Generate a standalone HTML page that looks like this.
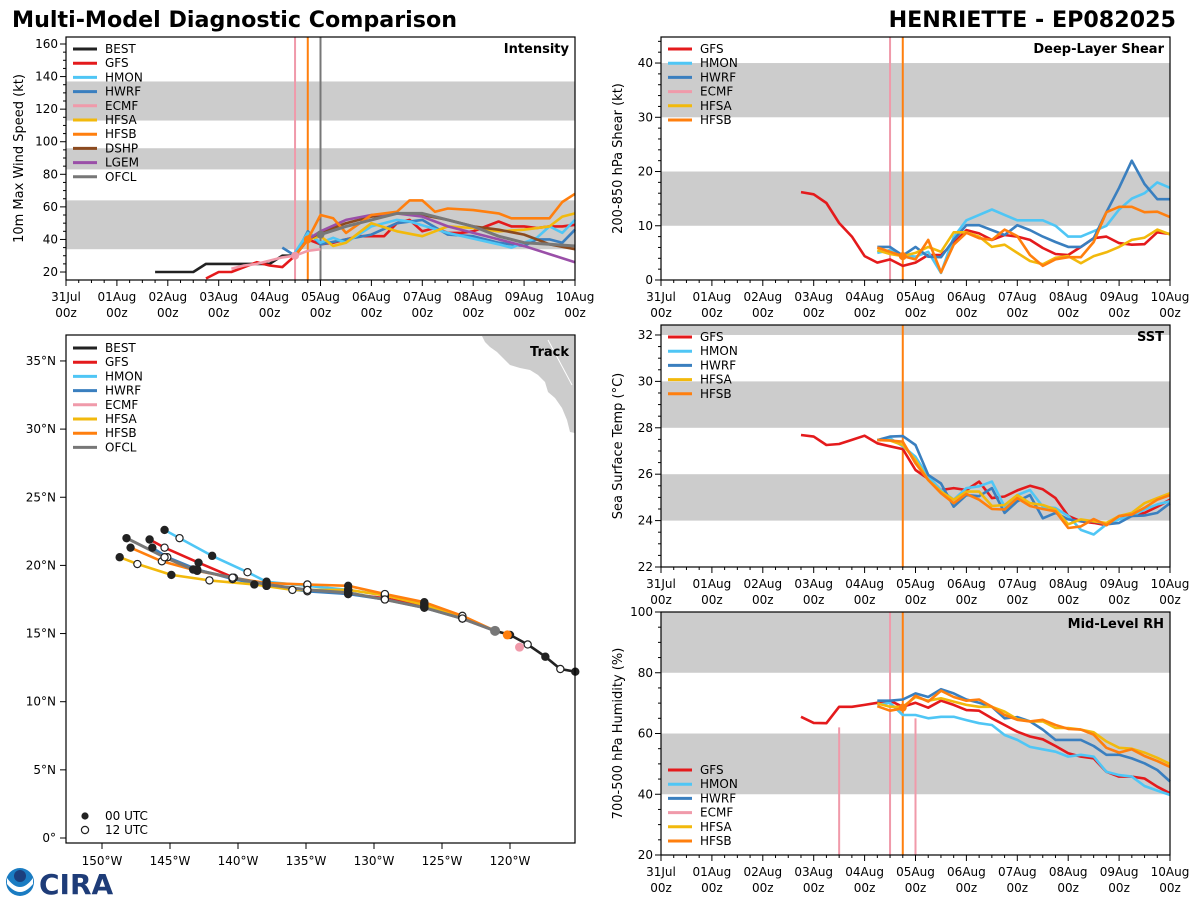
<!DOCTYPE html>
<html><head><meta charset="utf-8"><style>
body{margin:0;background:#fff;width:1200px;height:900px;overflow:hidden;font-family:"Liberation Sans","DejaVu Sans",sans-serif}
svg text{font-family:"DejaVu Sans","Liberation Sans",sans-serif}
</style></head><body>
<svg id="c" width="1200" height="900" xmlns="http://www.w3.org/2000/svg">
<text x="12" y="27" font-size="22.2" font-weight="bold">Multi-Model Diagnostic Comparison</text>
<text x="1176" y="27" font-size="22.2" font-weight="bold" text-anchor="end">HENRIETTE - EP082025</text>
<g>
<circle cx="20" cy="882" r="14" fill="#1a7cc2"/><path d="M7,878 Q20,896 33,878 L33,884 Q20,900 7,884Z" fill="#fff"/><circle cx="20" cy="876" r="6" fill="#1b3f7d"/>
<text x="39" y="894" font-size="28" font-weight="bold" fill="#1e3c78" font-family="Liberation Serif,serif">CIRA</text>
</g>
</svg>
<script>
// ---- data ----
const intensityBestH=[42,48,54,60,66,72,78,84,90,96,102,108,114];
const intensityBestV=[20,20,20,20,25,25,25,25,25,25,30,30,40];
const intensityGfsH=[66,72,78,84,90,96,102,108,114,120,126,132,138,144,150,156,162,168,174,180,186,192,198,204,210,216,222,228,234,240];
const intensityGfsV=[16,20,20,23,26,24,23,30,40,37,38,40,42,42,42,50,52,45,47,44,44,45,48,51,48,48,47,48,48,49];
const intensityHmonH=[108,114,120,126,132,144,156,162,180,204,210,216,222,228,234,240];
const intensityHmonV=[32,44,38,41,38,48,52,51,44,37,35,38,41,48,44,52];
const intensityHwrfH=[102,108,114,120,132,144,156,168,180,192,204,216,222,228,234,240];
const intensityHwrfV=[35,30,45,37,40,43,50,52,43,42,38,36,40,40,38,46];
const intensityHfsaH=[108,114,120,126,132,144,156,168,180,192,204,216,228,234,240];
const intensityHfsaV=[30,40,42,36,38,50,45,42,48,47,45,46,48,54,56];
const intensityHfsbH=[108,114,120,126,132,144,156,162,168,174,180,192,204,210,222,228,234,240];
const intensityHfsbV=[30,40,55,53,44,55,57,64,64,57,59,58,56,53,53,53,63,68];
const intensityEcmfH=[78,84,90,96,102,108,114,120];
const intensityEcmfV=[22,24,25,27,29,30,33,34];
const intensityDshpH=[108,114,120,132,144,156,168,180,192,204,216,222,228,240];
const intensityDshpV=[30,40,44,50,54,56,55,52,48,46,43,40,37,34];
const intensityLgemH=[114,120,132,144,156,168,180,192,204,216,228,240];
const intensityLgemV=[40,45,52,55,56,54,48,44,40,36,31,26];
const intensityOfclH=[120,132,144,156,168,180,192,204,216,228,240];
const intensityOfclV=[43,48,52,56,56,52,48,42,38,37,36];

const shearGfs=[16.2,15.8,14.2,10.5,8,4.4,3.2,3.8,2.6,3.2,4.6,4.6,6.8,9.2,8.6,7.4,8.3,8,7.4,5.9,4.8,4.6,6.1,7.7,8,6.8,6.5,6.6,8.8,8.5];
const shearHmon=[5,5.5,4.6,4.3,5.2,1.3,7.9,11,12,13,12,11,11,11,10,8,8,9,10,13,15,16,18,17];
const shearHwrf=[6.1,6.1,4.5,6.1,4.3,4.2,7.4,10.1,10.1,9.2,8.3,10.1,9.2,8,7,6.1,6.1,7.7,12.5,17,22,17.7,14.9,14.9];
const shearHfsa=[5.5,4.8,4.4,5,6.1,5.2,8.8,8.8,8,6.1,6.5,5,3.5,2.9,4.1,4.4,3.1,4.4,5.1,6.1,7.4,7.8,9.3,8.4];
const shearHfsb=[6,5.2,4.4,3.8,7.4,1.4,6.5,8.7,7.7,7.4,9.3,8.1,4.6,2.6,3.8,4.2,4.2,7,12.5,13.5,13.5,12.5,12.6,11.6];

const sstGfs=[27.69,27.62,27.26,27.3,27.48,27.66,27.33,27.2,27.08,26.18,25.8,25.32,25.4,25.32,25.68,24.97,25.04,25.3,25.5,25.35,24.97,24.2,23.97,23.9,23.8,24.2,24.2,24.33,24.6,24.9];
const sstHmon=[27.47,27.55,27.2,26.75,25.9,25.32,24.9,25.4,25.48,25.68,24.6,25.1,25.32,24.6,24.54,24.2,23.6,23.4,23.84,24.05,24.2,24.48,24.7,24.83];
const sstHwrf=[27.47,27.62,27.64,27.26,25.97,25.6,24.6,25.1,25.05,25.4,24.33,24.83,25.1,24.1,24.33,24.05,23.97,23.97,23.84,23.9,24.2,24.22,24.33,24.75];
const sstHfsa=[27.47,27.45,27.26,26.61,25.75,25.25,24.9,25.25,25.25,24.63,24.67,25.1,24.75,24.67,24.48,23.84,24.05,23.97,23.9,24.2,24.33,24.75,24.97,25.18];
const sstHfsb=[27.47,27.45,27.4,26.47,25.75,25.18,24.75,25.15,24.9,24.5,24.48,24.97,24.63,24.5,24.4,23.68,23.75,24.07,23.8,24.2,24.26,24.55,24.9,25.1];

const rhGfs=[65.5,63.5,63.4,68.8,68.8,69.4,70.1,70.8,68.8,70.1,68.5,70.8,69.4,67.7,67.5,65,62.8,60.6,59,58.1,55.9,53.5,52.4,51.8,47.4,45.8,45.8,45.2,42.5,40.3];
const rhHmon=[69.4,70.1,66.1,66.1,65,65.5,65.5,64.4,63.4,62.8,59.5,57.9,55.6,54.8,54,52.4,53,52.4,47.4,46.3,45.8,42.7,41.2,39.8];
const rhHwrf=[70.8,70.8,71.2,73.2,72,74.6,73.2,71.2,70.1,68.8,65,65.4,64,61.3,57.9,57.9,57.9,55.9,53,53,51.8,50.2,48,44.2];
const rhHfsa=[69.9,68.8,68.8,72,70.8,71.6,70.5,69.4,68.8,68.8,67.2,64.7,64,64,61.8,61.8,61.3,60.4,57.4,55.3,55,53.7,52,50];
const rhHfsb=[69,67.5,68.3,72.4,70.5,74.1,72,70.8,71.2,68.8,66.1,64.5,64,64.5,62.8,61.5,61.3,59.6,55.3,53.7,54.8,52.6,50.9,49];

const trackBestLon=[115.2,116.3,117.4,118.7,120.0,121.1];
const trackBestLat=[12.2,12.4,13.3,14.2,14.9,15.2];
const trackGfsLon=[121.1,123.5,126.3,129.2,131.9,134.9,137.9,140.3,142.9,145.4,146.5];
const trackGfsLat=[15.2,16.1,17.0,17.6,17.9,18.2,18.5,19.1,20.2,21.3,21.9];
const trackHmonLon=[121.1,123.5,126.3,129.2,131.9,134.9,137.9,139.3,141.9,144.3,145.4];
const trackHmonLat=[15.2,16.2,17.2,17.8,18.2,18.5,18.8,19.5,20.7,22.0,22.6];
const trackHwrfLon=[121.1,123.5,126.3,129.2,131.9,134.9,137.9,140.4,143.0,145.2,146.3];
const trackHwrfLat=[15.2,16.1,16.9,17.5,17.9,18.1,18.5,19.0,19.7,20.6,21.3];
const trackHfsaLon=[121.1,123.5,126.3,129.2,131.9,136.0,138.8,142.1,144.9,147.4,148.7];
const trackHfsaLat=[15.2,16.2,17.1,17.8,18.2,18.2,18.6,18.9,19.3,20.1,20.6];
const trackHfsbLon=[121.1,123.5,126.3,129.2,131.9,134.9,137.9,140.4,143.0,145.6,147.9];
const trackHfsbLat=[15.2,16.3,17.3,17.9,18.5,18.6,18.7,19.1,19.6,20.3,21.3];
const trackOfclLon=[121.1,123.5,126.3,129.2,131.9,134.9,137.9,140.4,143.3,145.4,148.2];
const trackOfclLat=[15.2,16.1,16.9,17.5,18.0,18.2,18.6,19.1,19.7,20.6,22.0];
const trackEcmfLon=[119.3];
const trackEcmfLat=[14.0];

const dateLabels=["31Jul","01Aug","02Aug","03Aug","04Aug","05Aug","06Aug","07Aug","08Aug","09Aug","10Aug"];
const lonTicks=[150,145,140,135,130,125,120];
const latTicks=[0,5,10,15,20,25,30,35];

// ---- drawing ----
const C={BEST:"#222222",GFS:"#e41a1c",HMON:"#4fc6f5",HWRF:"#3a7fbf",ECMF:"#f09aaa",HFSA:"#f2b90c",HFSB:"#ff7f0e",DSHP:"#8b4a1f",LGEM:"#9a4fa8",OFCL:"#777777"};
const svg=document.getElementById('c');const NS="http://www.w3.org/2000/svg";
function el(t,a,p){const e=document.createElementNS(NS,t);for(const k in a)e.setAttribute(k,a[k]);(p||svg).appendChild(e);return e;}
function txt(x,y,s,a,p){const e=el('text',Object.assign({x:x,y:y,'font-size':12},a||{}),p);e.textContent=s;return e;}
function range(h0,n){const r=[];for(let i=0;i<n;i++)r.push(h0+6*i);return r;}

function timePanel(cfg){
  const g=el('g',{});
  
  
  const X=h=>cfg.x0+h/240*(cfg.x1-cfg.x0);
  const Y=v=>cfg.y1-(v-cfg.lo)/(cfg.hi-cfg.lo)*(cfg.y1-cfg.y0);
  cfg.bands.forEach(b=>{const r=el('rect',{x:cfg.x0,y:Y(Math.min(b[1],cfg.hi)),width:cfg.x1-cfg.x0,height:Y(b[0])-Y(Math.min(b[1],cfg.hi)),fill:'#cccccc'},g);
    });
  cfg.vlines.forEach(v=>{const l=el('line',{x1:X(v.h),x2:X(v.h),y1:v.top!=null?Y(v.top):cfg.y0,y2:cfg.y1,stroke:v.c,'stroke-width':2},g);
    });
  cfg.series.forEach(s=>{
    let pts=s.v.map((v,i)=>X(s.h[i]).toFixed(1)+','+Y(v).toFixed(1)).join(' ');
    const p=el('polyline',{points:pts,fill:'none',stroke:C[s.k],'stroke-width':s.w||2.6,'stroke-linejoin':'round'},g);
    
  });
  (cfg.dots||[]).forEach(d=>{const c=el('circle',{cx:X(d.h),cy:Y(d.v),r:4,fill:C[d.k]},g);
    });
  const fr=el('rect',{x:cfg.x0,y:cfg.y0,width:cfg.x1-cfg.x0,height:cfg.y1-cfg.y0,fill:'none',stroke:'#000','stroke-width':1.2},g);
  
  for(let h=0;h<=240;h+=6){const big=h%24==0;el('line',{x1:X(h),x2:X(h),y1:cfg.y1,y2:cfg.y1+(big?6:3),stroke:'#000'},g);}
  dateLabels.forEach((d,i)=>{const t=txt(X(i*24),cfg.y1+21,d,{'text-anchor':'middle'},g);
    const t2=txt(X(i*24),cfg.y1+37,'00z',{'text-anchor':'middle'},g);});
  for(let v=Math.ceil(cfg.lo/cfg.minor)*cfg.minor;v<=cfg.hi;v+=cfg.minor){const big=Math.abs(v/cfg.major-Math.round(v/cfg.major))<1e-6;
    el('line',{x1:cfg.x0,x2:cfg.x0-(big?6:3),y1:Y(v),y2:Y(v),stroke:'#000'},g);
    if(big){const t=txt(cfg.x0-8,Y(v)+4,String(Math.round(v)),{'text-anchor':'end'},g);}}
  const yl=txt(0,0,cfg.ylabel,{'font-size':13,'text-anchor':'middle',transform:`translate(${cfg.ylx},${(cfg.y0+cfg.y1)/2}) rotate(-90)`},g);
  
  const tt=txt(cfg.x1-6,cfg.y0+16,cfg.title,{'font-size':13,'font-weight':'bold','text-anchor':'end'},g);
  
  legend(cfg.x0+7,cfg.legY,cfg.legend,g);
}
function legend(x,y,keys,g){
  keys.forEach((k,i)=>{const yy=y+i*14.2;
    const lg=el('g',{},g);
    
    
    el('line',{x1:x,x2:x+24,y1:yy,y2:yy,stroke:C[k],'stroke-width':3},lg);
    txt(x+32,yy+4,k,{},lg);});
}

timePanel({name:'intensity',x0:66,x1:575,y0:37,y1:280,lo:15.1,hi:164.3,major:20,minor:5,
 bands:[[34,64],[83,96],[113,137]],
 vlines:[{h:108,c:C.ECMF},{h:114,c:C.HFSB},{h:120,c:C.OFCL}],
 series:[{k:'BEST',h:intensityBestH,v:intensityBestV},{k:'GFS',h:intensityGfsH,v:intensityGfsV},{k:'ECMF',h:intensityEcmfH,v:intensityEcmfV},
  {k:'HWRF',h:intensityHwrfH,v:intensityHwrfV},{k:'HMON',h:intensityHmonH,v:intensityHmonV},{k:'HFSA',h:intensityHfsaH,v:intensityHfsaV},
  {k:'DSHP',h:intensityDshpH,v:intensityDshpV},{k:'LGEM',h:intensityLgemH,v:intensityLgemV},{k:'HFSB',h:intensityHfsbH,v:intensityHfsbV},{k:'OFCL',h:intensityOfclH,v:intensityOfclV,w:3}],
 dots:[{h:108,v:30,k:'ECMF'},{h:114,v:40,k:'HFSB'},{h:120,v:43,k:'OFCL'}],
 ylabel:'10m Max Wind Speed (kt)',ylx:23,title:'Intensity',legY:49,
 legend:['BEST','GFS','HMON','HWRF','ECMF','HFSA','HFSB','DSHP','LGEM','OFCL']});

timePanel({name:'shear',x0:661,x1:1170,y0:37,y1:280,lo:0,hi:44.8,major:10,minor:2,
 bands:[[10,20],[30,40]],
 vlines:[{h:108,c:C.ECMF},{h:114,c:C.HFSB}],
 series:[{k:'GFS',h:range(66,shearGfs.length),v:shearGfs},{k:'HMON',h:range(102,shearHmon.length),v:shearHmon},{k:'HWRF',h:range(102,shearHwrf.length),v:shearHwrf},
  {k:'HFSA',h:range(102,shearHfsa.length),v:shearHfsa},{k:'HFSB',h:range(102,shearHfsb.length),v:shearHfsb}],
 dots:[{h:114,v:4.4,k:'HFSB'}],
 ylabel:'200-850 hPa Shear (kt)',ylx:622,title:'Deep-Layer Shear',legY:49,
 legend:['GFS','HMON','HWRF','ECMF','HFSA','HFSB']});

timePanel({name:'sst',x0:661,x1:1170,y0:325,y1:567,lo:22,hi:32.43,major:2,minor:0.5,
 bands:[[24,26],[28,30],[32,33]],
 vlines:[{h:114,c:C.HFSB}],
 series:[{k:'GFS',h:range(66,sstGfs.length),v:sstGfs},{k:'HMON',h:range(102,sstHmon.length),v:sstHmon},{k:'HWRF',h:range(102,sstHwrf.length),v:sstHwrf},
  {k:'HFSA',h:range(102,sstHfsa.length),v:sstHfsa},{k:'HFSB',h:range(102,sstHfsb.length),v:sstHfsb}],
 ylabel:'Sea Surface Temp (°C)',ylx:622,title:'SST',legY:337,
 legend:['GFS','HMON','HWRF','HFSA','HFSB']});

timePanel({name:'rh',x0:661,x1:1170,y0:612,y1:855,lo:20,hi:100,major:20,minor:5,
 bands:[[40,60],[80,100]],
 vlines:[{h:84,c:C.ECMF,top:62},{h:108,c:C.ECMF},{h:120,c:C.ECMF,top:65},{h:114,c:C.HFSB}],
 series:[{k:'GFS',h:range(66,rhGfs.length),v:rhGfs},{k:'HMON',h:range(102,rhHmon.length),v:rhHmon},{k:'HWRF',h:range(102,rhHwrf.length),v:rhHwrf},
  {k:'HFSA',h:range(102,rhHfsa.length),v:rhHfsa},{k:'HFSB',h:range(102,rhHfsb.length),v:rhHfsb}],
 dots:[{h:114,v:68.5,k:'HFSB'}],
 ylabel:'700-500 hPa Humidity (%)',ylx:622,title:'Mid-Level RH',legY:770,
 legend:['GFS','HMON','HWRF','ECMF','HFSA','HFSB']});

// ---- track ----
(function(){
  const g=el('g',{});
  
  
  const X=lon=>102+(150-lon)*13.6, Y=lat=>838-lat*13.63;
  const land=el('polygon',{points:'482,336 575,336 575,433 570,432 567,420 562,408 555,398 548,392 545,382 538,375 530,370 520,368 510,365 503,358 497,352 490,347 485,342',fill:'#cccccc'},g);
  
  el('line',{x1:548,y1:340,x2:572,y2:385,stroke:'#fff','stroke-width':1},g);
  const tracks=[['BEST',trackBestLon,trackBestLat],['GFS',trackGfsLon,trackGfsLat],['HWRF',trackHwrfLon,trackHwrfLat],['HMON',trackHmonLon,trackHmonLat],
    ['HFSA',trackHfsaLon,trackHfsaLat],['HFSB',trackHfsbLon,trackHfsbLat],['OFCL',trackOfclLon,trackOfclLat]];
  tracks.forEach(t=>{const p=el('polyline',{points:t[1].map((l,i)=>X(l).toFixed(1)+','+Y(t[2][i]).toFixed(1)).join(' '),fill:'none',stroke:C[t[0]],'stroke-width':t[0]=='OFCL'?3:2.6,'stroke-linejoin':'round'},g);
    });
  tracks.forEach(t=>{t[1].forEach((l,i)=>{if(t[0]!='BEST'&&i==0)return;if(t[0]=='BEST'&&i==t[1].length-1)return;
    const filled=(i%2==0);
    const c=el('circle',{cx:X(l),cy:Y(t[2][i]),r:3.6,fill:filled?'#222':'#fff',stroke:'#222','stroke-width':1.2},g);
    });});
  const ec=el('circle',{cx:X(trackEcmfLon[0]),cy:Y(trackEcmfLat[0]),r:4.5,fill:C.ECMF},g);
  el('circle',{cx:X(121.1),cy:Y(15.2),r:5,fill:C.OFCL},g);
  el('circle',{cx:X(120.2),cy:Y(14.9),r:4.5,fill:C.HFSB},g);
  const fr=el('rect',{x:66,y:335,width:509,height:508,fill:'none',stroke:'#000','stroke-width':1.2},g);
  
  lonTicks.forEach(l=>{el('line',{x1:X(l),x2:X(l),y1:843,y2:849,stroke:'#000'},g);const t=txt(X(l),865,l+'°W',{'text-anchor':'middle'},g);});
  latTicks.forEach(l=>{el('line',{x1:66,x2:60,y1:Y(l),y2:Y(l),stroke:'#000'},g);const t=txt(56,Y(l)+4,l+'°'+(l?'N':''),{'text-anchor':'end'},g);});
  const tt=txt(569,356,'Track',{'font-size':13,'font-weight':'bold','text-anchor':'end'},g);
  legend(73,348,['BEST','GFS','HMON','HWRF','ECMF','HFSA','HFSB','OFCL'],g);
  el('circle',{cx:85,cy:816,r:3.6,fill:'#222'},g);txt(105,820,'00 UTC',{},g);
  el('circle',{cx:85,cy:830,r:3.6,fill:'#fff',stroke:'#222','stroke-width':1.2},g);txt(105,834,'12 UTC',{},g);
})();
</script>
</body></html>
